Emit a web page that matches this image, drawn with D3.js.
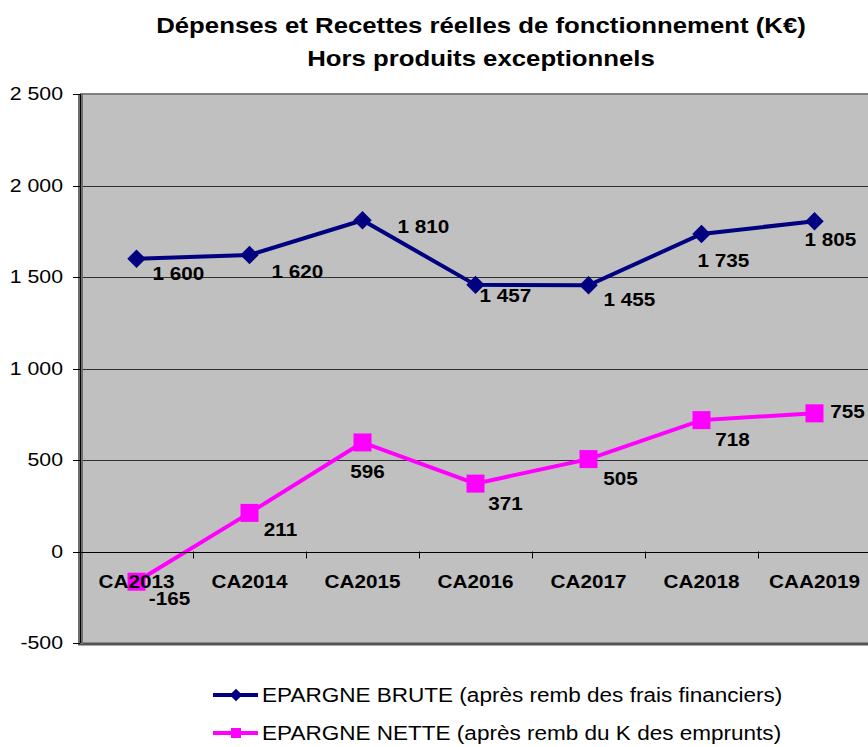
<!DOCTYPE html>
<html><head><meta charset="utf-8">
<script src="https://cdn.jsdelivr.net/npm/d3@7/dist/d3.min.js"></script>
<style>body{margin:0;background:#fff;} svg{display:block;font-family:Arial,"Liberation Sans",sans-serif;}</style>
</head><body>
<script>
const categories = ["CA2013","CA2014","CA2015","CA2016","CA2017","CA2018","CAA2019"];
const epargneBrute = [1600,1620,1810,1457,1455,1735,1805];
const epargneNette = [-165,211,596,371,505,718,755];
const yTicks = [-500,0,500,1000,1500,2000,2500];
const titleLines = ["Dépenses et Recettes réelles de fonctionnement (K€)","Hors produits exceptionnels"];
const seriesNames = ["EPARGNE BRUTE (après remb des frais financiers)","EPARGNE NETTE (après remb du K des emprunts)"];
// label offsets (layout)
const brutOff = [[42,15],[48,17],[61,6],[30,11],[41,14],[22,27],[16,19]];
const netOff = [[33,17],[31,17],[5,29],[30,20],[32,20],[31,20],[33,-2]];

const W=868,H=747, S=1.15;
const svg=d3.select("body").append("svg").attr("width",W).attr("height",H);
const x0=80,x1=871,yTop=94,yBot=643;
const x=d3.scalePoint().domain(categories).range([x0,x1]).padding(0.5);
const step=x.step();
const y=d3.scaleLinear().domain([-500,2500]).range([yBot,yTop]);
const fmt=v=>{const s=d3.format(",")(Math.abs(v)).replace(/,/g," ");return (v<0?"-":"")+s;};

function txt(g,str,px,py,opts){
  const t=g.append("text").attr("transform",`translate(${px},${py}) scale(${S},1)`).text(str);
  t.attr("font-size",opts.size).attr("font-weight",opts.weight||"normal")
   .attr("text-anchor",opts.anchor||"start").attr("dy",opts.dy||"0.35em").attr("fill","#000");
  return t;
}

// plot area
svg.append("rect").attr("x",x0).attr("y",yTop).attr("width",x1-x0).attr("height",yBot-yTop).attr("fill","#C0C0C0");
// gridlines
svg.append("g").selectAll("line").data(yTicks.filter(v=>v>-500&&v<2500)).join("line")
  .attr("x1",x0).attr("x2",x1).attr("y1",d=>Math.round(y(d))+0.5).attr("y2",d=>Math.round(y(d))+0.5)
  .attr("stroke","#303030").attr("stroke-width",1);
// top border
svg.append("line").attr("x1",x0).attr("x2",x1).attr("y1",yTop).attr("y2",yTop).attr("stroke","#808080").attr("stroke-width",2);
// bottom border
svg.append("line").attr("x1",x0-2).attr("x2",x1).attr("y1",yBot+1).attr("y2",yBot+1).attr("stroke","#555").attr("stroke-width",3);
// left shadow
svg.append("rect").attr("x",x0-2).attr("y",yTop).attr("width",5).attr("height",yBot-yTop+1).attr("fill","#6e6e6e");
svg.append("line").attr("x1",x0+0.5).attr("x2",x0+0.5).attr("y1",yTop).attr("y2",yBot).attr("stroke","#000");

// y axis ticks
const ya=svg.append("g");
ya.selectAll("line").data(yTicks).join("line")
  .attr("x1",x0-7).attr("x2",x0).attr("y1",d=>Math.round(y(d))+0.5).attr("y2",d=>Math.round(y(d))+0.5).attr("stroke","#000");
yTicks.forEach(v=>txt(ya,fmt(v),63,y(v),{size:18.5,anchor:"end"}));

// x axis at zero
const xa=svg.append("g");
xa.append("line").attr("x1",x0).attr("x2",x1).attr("y1",Math.round(y(0))+0.5).attr("y2",Math.round(y(0))+0.5).attr("stroke","#000");
xa.selectAll(".tk").data(d3.range(1,categories.length)).join("line").attr("class","tk")
  .attr("x1",d=>x0+d*step+0.5).attr("x2",d=>x0+d*step+0.5).attr("y1",y(0)).attr("y2",y(0)+7).attr("stroke","#000");

// lines
const line=d3.line().x((d,i)=>x(categories[i])).y(d=>y(d));
svg.append("path").datum(epargneNette).attr("d",line).attr("fill","none").attr("stroke","#FF00FF").attr("stroke-width",4);
svg.append("path").datum(epargneBrute).attr("d",line).attr("fill","none").attr("stroke","#000080").attr("stroke-width",4);
svg.append("g").selectAll("path").data(epargneBrute).join("path")
  .attr("d",d3.symbol().type(d3.symbolSquare).size(170)()).attr("transform",(d,i)=>`translate(${x(categories[i])},${y(d)}) rotate(45)`)
  .attr("fill","#000080");
svg.append("g").selectAll("rect").data(epargneNette).join("rect")
  .attr("x",(d,i)=>x(categories[i])-9).attr("y",d=>y(d)-9).attr("width",18).attr("height",18).attr("fill","#FF00FF");

// category labels (drawn above markers)
categories.forEach(c=>txt(xa.raise(),c,x(c),y(0)+30,{size:18,weight:"bold",anchor:"middle"}));

// data labels
const lg=svg.append("g");
epargneBrute.forEach((v,i)=>txt(lg,fmt(v),x(categories[i])+brutOff[i][0],y(v)+brutOff[i][1],{size:18,weight:"bold",anchor:"middle"}));
epargneNette.forEach((v,i)=>txt(lg,fmt(v),x(categories[i])+netOff[i][0],y(v)+netOff[i][1],{size:18,weight:"bold",anchor:"middle"}));

// title
titleLines.forEach((t,i)=>txt(svg,t,481,25+i*33,{size:22.4,weight:"bold",anchor:"middle"}));

// legend
const colors=["#000080","#FF00FF"];
seriesNames.forEach((n,i)=>{
  const ly=695+i*38;
  const g=svg.append("g");
  g.append("line").attr("x1",213).attr("x2",258).attr("y1",ly).attr("y2",ly).attr("stroke",colors[i]).attr("stroke-width",4);
  if(i===0) g.append("path").attr("d",d3.symbol().type(d3.symbolSquare).size(80)()).attr("transform",`translate(236,${ly}) rotate(45)`).attr("fill",colors[i]);
  else g.append("rect").attr("x",231).attr("y",ly-5).attr("width",10).attr("height",10).attr("fill",colors[i]);
  txt(g,n,262,ly,{size:19.6});
});
</script>
</body></html>
